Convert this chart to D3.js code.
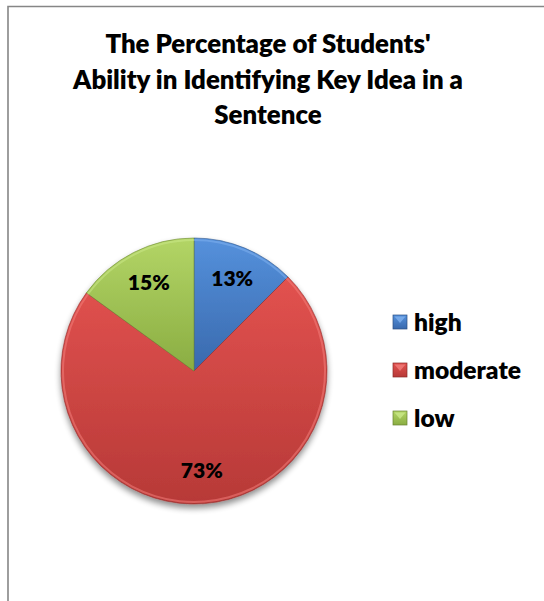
<!DOCTYPE html>
<html>
<head>
<meta charset="utf-8">
<script src="https://cdn.jsdelivr.net/npm/d3@7"></script>
<style>
  html, body { margin: 0; padding: 0; background: #fff; }
  svg { display: block; }
  text { font-family: Lato, "Open Sans", sans-serif; font-weight: 800; fill: #000; }
</style>
</head>
<body>
<div id="chart"></div>
<script>
(function() {
  // data
  var categories = ['high', 'moderate', 'low'];
  var values = [12.5, 72.5, 15];
  var labels = ['13%', '73%', '15%'];
  var titleLines = ["The Percentage of Students'", 'Ability in Identifying Key Idea in a', 'Sentence'];

  var colors = {
    high:     { top: '#5591dc', bottom: '#3969ad', edge: '#7fb0ee' },
    moderate: { top: '#e2524f', bottom: '#b73937', edge: '#f27d7a' },
    low:      { top: '#b3d566', bottom: '#8aad42', edge: '#cbe889' }
  };

  var width = 544,
      height = 601,
      cx = 194,
      cy = 371,
      radius = 133;

  function translate(x, y) {
    return 'translate(' + x + ',' + y + ')';
  }

  // shrink/grow a text so it spans roughly the given width (Calibri substitute)
  function fitWidth(sel, target) {
    var size = parseFloat(sel.style('font-size'));
    var w = sel.node().getComputedTextLength();
    if (w > 0) sel.style('font-size', (size * target / w).toFixed(2) + 'px');
    return parseFloat(sel.style('font-size'));
  }

  var svg = d3.select('#chart')
    .append('svg')
      .attr('width', width)
      .attr('height', height);

  var defs = svg.append('defs');

  categories.forEach(function(c) {
    var g = defs.append('linearGradient')
        .attr('id', 'grad-' + c)
        .attr('x1', 0).attr('y1', 0)
        .attr('x2', 0).attr('y2', 1);
    g.append('stop').attr('offset', '0%').attr('stop-color', colors[c].top);
    g.append('stop').attr('offset', '100%').attr('stop-color', colors[c].bottom);
  });

  var shadow = defs.append('filter')
      .attr('id', 'shadow')
      .attr('x', '-20%').attr('y', '-20%')
      .attr('width', '140%').attr('height', '140%');
  shadow.append('feGaussianBlur').attr('in', 'SourceAlpha').attr('stdDeviation', 3);
  shadow.append('feOffset').attr('dy', 4).attr('result', 'blur');
  shadow.append('feComponentTransfer')
    .append('feFuncA').attr('type', 'linear').attr('slope', 0.45);
  var merge = shadow.append('feMerge');
  merge.append('feMergeNode');
  merge.append('feMergeNode').attr('in', 'SourceGraphic');

  // chart area border (only top and left visible)
  svg.append('path')
    .attr('d', 'M8,' + height + 'V6.5H' + width)
    .attr('fill', 'none')
    .attr('stroke', '#868686')
    .attr('stroke-width', 1.6);

  // title
  var title = svg.append('text')
    .attr('text-anchor', 'middle')
    .style('font-size', '24px');
  title.selectAll('tspan')
    .data(titleLines)
    .enter().append('tspan')
      .attr('x', 268)
      .attr('y', function(d, i) { return 53 + i * 35.5; })
      .text(function(d) { return d; });
  var probe = svg.append('text').style('font-size', '24px').text(titleLines[1]);
  title.style('font-size', fitWidth(probe, 390) + 'px');
  probe.remove();

  var pie = d3.pie().sort(null).value(function(d) { return d; });
  var arcs = pie(values);

  var arc = d3.arc().innerRadius(0).outerRadius(radius);
  var bevelArc = d3.arc().innerRadius(radius - 3).outerRadius(radius - 1);
  var labelArc = d3.arc().innerRadius(radius * 0.75).outerRadius(radius * 0.75);

  var pieG = svg.append('g')
    .attr('transform', translate(cx, cy));

  var slices = pieG.append('g').attr('filter', 'url(#shadow)');

  slices.selectAll('path.slice')
    .data(arcs)
    .enter().append('path')
      .attr('class', 'slice')
      .attr('d', arc)
      .attr('fill', function(d, i) { return 'url(#grad-' + categories[i] + ')'; })
      .attr('stroke', function(d, i) { return d3.color(colors[categories[i]].bottom).darker(0.6); })
      .attr('stroke-width', 0.6);

  // bevel highlight on outer rim
  pieG.selectAll('path.bevel')
    .data(arcs)
    .enter().append('path')
      .attr('class', 'bevel')
      .attr('d', bevelArc)
      .attr('fill', function(d, i) { return colors[categories[i]].edge; })
      .attr('opacity', 0.55);

  var pctLabels = pieG.selectAll('text.label')
    .data(arcs)
    .enter().append('text')
      .attr('class', 'label')
      .attr('transform', function(d) { return translate.apply(null, labelArc.centroid(d)); })
      .attr('text-anchor', 'middle')
      .attr('dy', '0.36em')
      .style('font-size', '22px')
      .text(function(d, i) { return labels[i]; });
  pctLabels.style('font-size', fitWidth(d3.select(pctLabels.node()), 42) + 'px');

  // legend
  var legendY = d3.scalePoint()
      .domain(categories)
      .range([322, 418]);

  var legend = svg.append('g')
    .selectAll('g')
    .data(categories)
    .enter().append('g')
      .attr('transform', function(d) { return translate(393, legendY(d)); });

  legend.append('rect')
    .attr('x', 0).attr('y', -7)
    .attr('width', 14).attr('height', 14)
    .attr('fill', function(d) { return 'url(#grad-' + d + ')'; })
    .attr('stroke', function(d) { return d3.color(colors[d].bottom).darker(0.8); })
    .attr('stroke-width', 0.7);

  legend.append('path')
    .attr('d', 'M1.5,-5.5H12.5L7,1Z')
    .attr('fill', function(d) { return colors[d].edge; })
    .attr('opacity', 0.8);

  var legendText = legend.append('text')
    .attr('x', 21)
    .attr('dy', '0.36em')
    .style('font-size', '24px')
    .text(function(d) { return d; });
  legendText.style('font-size', fitWidth(legendText.filter(function(d) { return d === 'moderate'; }), 107) + 'px');
})();
</script>
</body>
</html>
